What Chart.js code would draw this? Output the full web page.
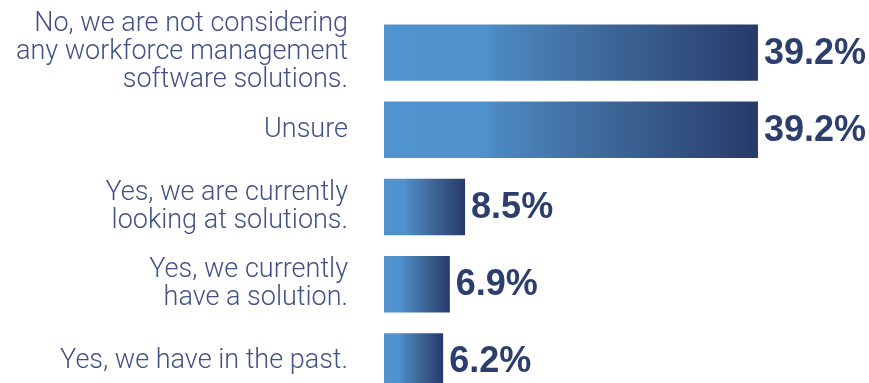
<!DOCTYPE html>
<html>
<head>
<meta charset="utf-8">
<title>Workforce management software</title>
<script src="https://cdn.jsdelivr.net/npm/chart.js@4/dist/chart.umd.min.js"></script>
<style>
    html, body { margin: 0; padding: 0; background: #fff; overflow: hidden; }
    canvas { display: block; }
</style>
</head>
<body>
<canvas id="chart" width="869" height="400"></canvas>
<script>
// Survey answers and their shares (%)
const answers = [
    ['No, we are not considering', 'any workforce management', 'software solutions.'],
    'Unsure',
    ['Yes, we are currently', 'looking at solutions.'],
    ['Yes, we currently', 'have a solution.'],
    'Yes, we have in the past.'
];
const shares = [39.2, 39.2, 8.5, 6.9, 6.2];

const LIGHT = '#4f93cf';
const DARK = '#273a69';
const LABEL_COLOR = '#3f5283';
const VALUE_COLOR = '#2b3e6d';

// Each bar fades from light blue to navy along its own length
function barGradient(ctx) {
    const chart = ctx.chart;
    const x = chart.scales.x;
    if (!chart.chartArea || !x) return LIGHT;
    const x0 = x.getPixelForValue(0);
    const x1 = x.getPixelForValue(ctx.raw);
    const g = chart.ctx.createLinearGradient(x0, 0, x1, 0);
    g.addColorStop(0, LIGHT);
    g.addColorStop(0.27, '#4f92cd');
    g.addColorStop(0.3, '#4d88c2');
    g.addColorStop(0.6, '#3d6798');
    g.addColorStop(1, DARK);
    return g;
}

// Percentage printed just past the end of each bar
const valueLabels = {
    id: 'valueLabels',
    afterDatasetsDraw(chart) {
        const ctx = chart.ctx;
        const meta = chart.getDatasetMeta(0);
        ctx.save();
        ctx.font = 'bold 36px "Liberation Sans", Arial, sans-serif';
        ctx.fillStyle = VALUE_COLOR;
        ctx.textAlign = 'left';
        ctx.textBaseline = 'middle';
        meta.data.forEach((bar, i) => {
            ctx.fillText(shares[i].toFixed(1) + '%', bar.x + 6, bar.y + 1);
        });
        ctx.restore();
    }
};

new Chart(document.getElementById('chart'), {
    type: 'bar',
    data: {
        labels: answers,
        datasets: [{
            data: shares,
            backgroundColor: barGradient,
            borderWidth: 0,
            categoryPercentage: 0.73,
            barPercentage: 1
        }]
    },
    options: {
        indexAxis: 'y',
        responsive: false,
        animation: false,
        layout: { padding: { top: 14, bottom: 0, left: 0, right: 8 } },
        plugins: {
            legend: { display: false },
            tooltip: { enabled: false }
        },
        scales: {
            x: {
                display: false,
                min: 0,
                max: 50
            },
            y: {
                grid: { display: false },
                border: { display: false },
                afterFit(scale) {
                    // fixed label column; tall labels may overhang the plot edges
                    scale.width = 384;
                    scale.paddingTop = 0;
                    scale.paddingBottom = 0;
                },
                ticks: {
                    autoSkip: false,
                    color: LABEL_COLOR,
                    padding: 28,
                    font: { family: 'Roboto', weight: 300, size: 27, lineHeight: 1.04 }
                }
            }
        }
    },
    plugins: [valueLabels]
});
</script>
</body>
</html>
